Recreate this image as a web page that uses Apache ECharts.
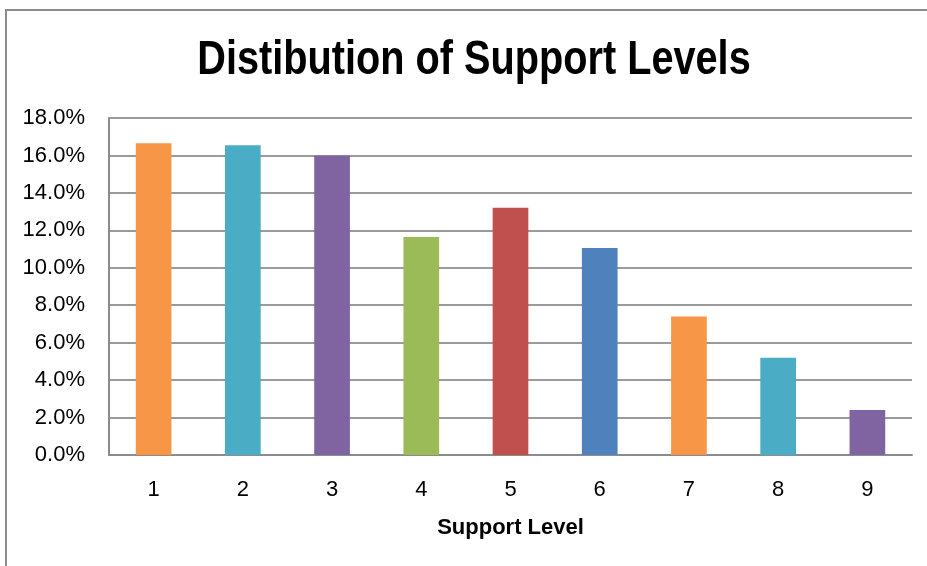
<!DOCTYPE html>
<html>
<head>
<meta charset="utf-8">
<script src="https://cdn.jsdelivr.net/npm/echarts@6/dist/echarts.min.js"></script>
<style>
	html, body { margin: 0; padding: 0; background: #fff; }
	#chart { width: 927px; height: 566px; }
</style>
</head>
<body>
<div id="chart"></div>
<script>
var levels = ['1', '2', '3', '4', '5', '6', '7', '8', '9'];
var shares = [16.65, 16.55, 16.0, 11.65, 13.2, 11.05, 7.4, 5.2, 2.4];
var barColors = ['#F79646', '#4BACC6', '#8064A2', '#9BBB59', '#C0504D', '#4F81BD', '#F79646', '#4BACC6', '#8064A2'];
var chartTitle = 'Distibution of Support Levels';

var fontNarrow = '"Liberation Sans Narrow", "Arial Narrow", "Liberation Sans", sans-serif';

var chart = echarts.init(document.getElementById('chart'));
chart.setOption({
	animation: false,
	graphic: [{
		type: 'polyline',
		shape: { points: [[6, 566], [6, 10], [927, 10]] },
		style: { stroke: '#8c8c8c', lineWidth: 2, fill: null }
	}, {
		// title drawn as text so it can be squeezed like the narrow font in the original
		type: 'text',
		x: 474,
		y: 36,
		scaleX: 0.81,
		style: {
			text: chartTitle,
			textAlign: 'center',
			fontFamily: fontNarrow,
			fontWeight: 'bold',
			fontSize: 49,
			fill: '#000'
		}
	}],
	grid: {
		left: 109,
		right: 15,
		top: 118,
		bottom: 111
	},
	xAxis: {
		type: 'category',
		data: levels,
		name: 'Support Level',
		nameLocation: 'middle',
		nameGap: 62,
		nameTextStyle: {
			fontFamily: fontNarrow,
			fontWeight: 'bold',
			fontSize: 22,
			color: '#000'
		},
		axisLine: { lineStyle: { color: '#8c8c8c', width: 2 } },
		axisTick: { show: false },
		axisLabel: {
			margin: 24,
			fontFamily: fontNarrow,
			fontSize: 22,
			color: '#000'
		}
	},
	yAxis: {
		type: 'value',
		min: 0,
		max: 18,
		interval: 2,
		axisLine: { show: true, lineStyle: { color: '#8c8c8c', width: 2 } },
		axisTick: { show: false },
		axisLabel: {
			margin: 24,
			fontFamily: fontNarrow,
			fontSize: 22,
			color: '#000',
			formatter: function (v) { return v.toFixed(1) + '%'; }
		},
		splitLine: { lineStyle: { color: '#9a9a9a', width: 2 } }
	},
	series: [{
		type: 'bar',
		barWidth: '40%',
		data: shares.map(function (v, i) {
			return { value: v, itemStyle: { color: barColors[i] } };
		})
	}]
});
</script>
</body>
</html>
